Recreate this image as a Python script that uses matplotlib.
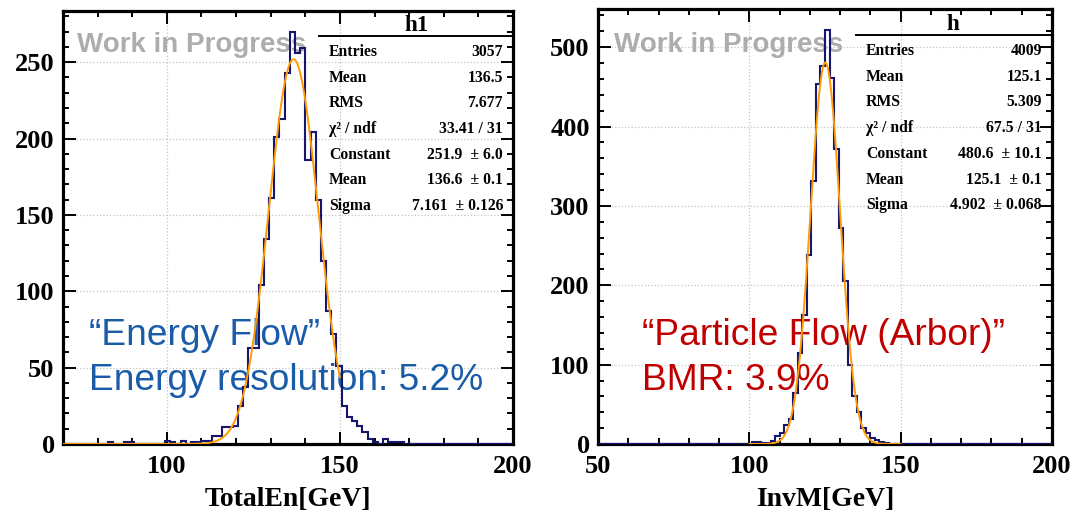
import matplotlib
matplotlib.use("Agg")
import matplotlib.pyplot as plt
import numpy as np
from matplotlib.lines import Line2D
from matplotlib.ticker import MultipleLocator

W, H = 1074, 513

# histograms: 100 bins of 1.5 GeV from 50 to 200
bin_lo, bin_hi, n_bins = 50.0, 200.0, 100

# TotalEn counts, first bin starts at 80 GeV
en_first = 80.0
en_counts = [0, 0, 1, 0, 0, 1, 1, 0, 0, 0, 0, 0, 0, 2, 1, 0, 2, 0, 1, 1,
             2, 2, 5, 5, 11, 11, 12, 25, 37, 63, 63, 104, 134, 161, 201, 213, 243,
             270, 256, 259, 186, 204, 160, 120, 87, 72, 51, 25, 18, 15, 12, 8, 3,
             1, 0, 3, 1, 1, 1]
en_fit = (251.9, 136.6, 7.161)     # constant, mean, sigma
en_fit_range = (70, 150)

# InvM counts, first bin starts at 101 GeV
m_first = 101.0
m_counts = [2, 2, 1, 1, 4, 10, 14, 24, 32, 64, 115, 163, 238, 331, 454, 476,
            522, 461, 372, 272, 205, 100, 60, 40, 20, 14, 8, 5, 2, 1]
m_fit = (480.6, 125.1, 4.902)
m_fit_range = (100, 150)

stat_names = ["Entries", "Mean", "RMS", "\u03c7\u00b2 / ndf", "Constant", "Mean", "Sigma"]
en_stats = ["3057", "136.5", "7.677", "33.41 / 31", "251.9  \u00b1 6.0", "136.6  \u00b1 0.1", "7.161  \u00b1 0.126"]
m_stats = ["4009", "125.1", "5.309", "67.5 / 31", "480.6  \u00b1 10.1", "125.1  \u00b1 0.1", "4.902  \u00b1 0.068"]

plt.rcParams['font.family'] = ['Liberation Serif', 'DejaVu Serif']
plt.rcParams['font.weight'] = 'bold'
plt.rcParams['axes.labelweight'] = 'bold'

fig = plt.figure(figsize=(W / 100, H / 100), dpi=100)
fig.patch.set_facecolor('white')


def fx(px):
    return px / W


def fy(py):
    return 1 - py / H


def full_counts(first, counts):
    c = np.zeros(n_bins)
    i0 = int(round((first - bin_lo) / 1.5))
    c[i0:i0 + len(counts)] = counts
    return c


edges = np.linspace(bin_lo, bin_hi, n_bins + 1)

panels = [
    dict(box=(63, 11, 513, 444), counts=full_counts(en_first, en_counts), fit=en_fit,
         fr=en_fit_range, xlim=(70, 200), ymaj=50, ymin=10, xlabel="TotalEn[GeV]",
         title="h1", vals=en_stats, title_x=417, stat_x0=319, lab_x=329, val_x=503, dy=0,
         note=["\u201cEnergy Flow\u201d", "Energy resolution: 5.2%"], note_c='#1a5ca8',
         note_x=89, wip_x=77),
    dict(box=(598, 9, 1052, 444), counts=full_counts(m_first, m_counts), fit=m_fit,
         fr=m_fit_range, xlim=(50, 200), ymaj=100, ymin=20, xlabel="InvM[GeV]",
         title="h", vals=m_stats, title_x=953, stat_x0=856, lab_x=866, val_x=1042, dy=-1,
         note=["\u201cParticle Flow (Arbor)\u201d", "BMR: 3.9%"], note_c='#c00000',
         note_x=642, wip_x=614),
]

for p in panels:
    x0, y0, x1, y1 = p['box']
    ax = fig.add_axes([fx(x0), fy(y1), fx(x1) - fx(x0), fy(y0) - fy(y1)])
    ax.stairs(p['counts'], edges, color='#16166e', lw=1.5, zorder=4)
    xs = np.linspace(p['fr'][0], p['fr'][1], 400)
    c, mu, s = p['fit']
    ax.plot(xs, c * np.exp(-0.5 * ((xs - mu) / s) ** 2), color='#ff9a00', lw=1.4, zorder=5)

    ax.set_xlim(*p['xlim'])
    ax.set_ylim(0, 1.05 * p['counts'].max())
    ax.xaxis.set_major_locator(MultipleLocator(50))
    ax.xaxis.set_minor_locator(MultipleLocator(10))
    ax.yaxis.set_major_locator(MultipleLocator(p['ymaj']))
    ax.yaxis.set_minor_locator(MultipleLocator(p['ymin']))
    ax.grid(True, which='major', ls=':', color='#c4c4c4', lw=0.9)
    ax.set_axisbelow(True)
    ax.tick_params(which='both', direction='in', top=True, right=True, labelsize=19, width=1.4)
    ax.tick_params(which='major', length=9)
    ax.tick_params(which='minor', length=4.5)
    ax.tick_params(axis='x', pad=8)
    ax.tick_params(axis='y', pad=6)
    for sp in ax.spines.values():
        sp.set_linewidth(2.3)
    ax.set_xlabel(p['xlabel'], fontsize=20, fontweight='bold')
    ax.xaxis.set_label_coords(0.5, -(506 - y1) / (y1 - y0))
    ax.xaxis.label.set_va('baseline')

    # stats box
    fig.text(fx(p['title_x']), fy(31 + p['dy']), p['title'], ha='center', va='baseline', fontsize=16.5)
    fig.add_artist(Line2D([fx(p['stat_x0']), fx(x1)], [fy(36 + p['dy'])] * 2,
                          color='black', lw=1.4, transform=fig.transFigure))
    for i, (name, val) in enumerate(zip(stat_names, p['vals'])):
        yb = fy(56 + p['dy'] + 25.7 * i)
        fig.text(fx(p['lab_x']), yb, name, ha='left', va='baseline', fontsize=11.3)
        fig.text(fx(p['val_x']), yb, val, ha='right', va='baseline', fontsize=11.3)

    ax.text(fx(p['wip_x']), fy(52), "Work in Progress", transform=fig.transFigure,
            family='Liberation Sans', weight='bold', fontsize=20, color='#adadad',
            va='baseline', ha='left', zorder=2)
    for k, line in enumerate(p['note']):
        ax.text(fx(p['note_x']), fy(345 + 45 * k), line, transform=fig.transFigure,
                family='Liberation Sans', weight='normal', fontsize=26.7, color=p['note_c'],
                va='baseline', ha='left', zorder=3)

fig.savefig("out.png", dpi=100, facecolor='white')
